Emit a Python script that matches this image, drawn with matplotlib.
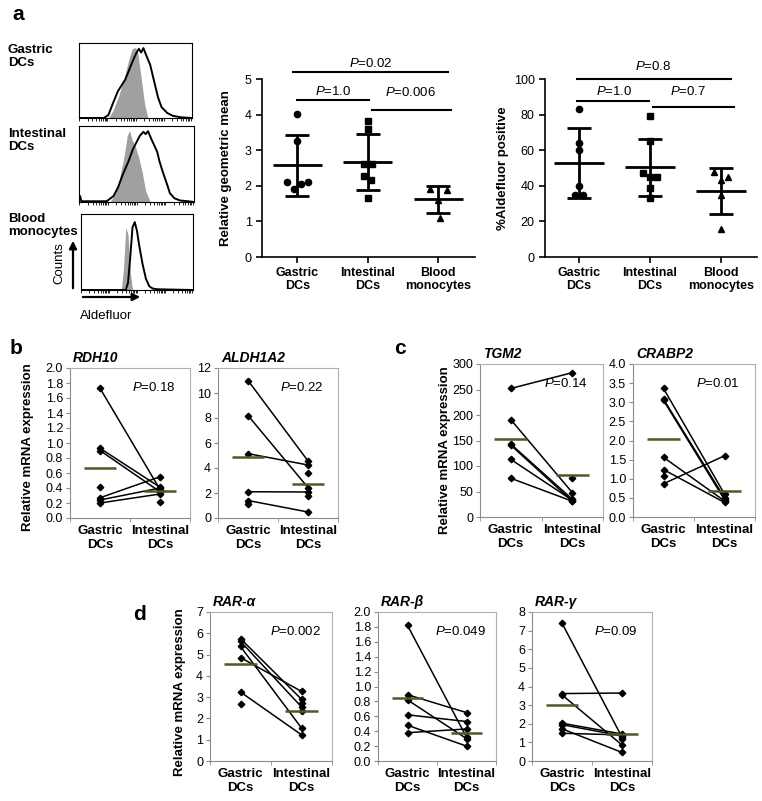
import numpy as np
import matplotlib
matplotlib.use("Agg")
import matplotlib.pyplot as plt

plt.rcParams["font.family"] = ["Liberation Sans", "DejaVu Sans"]
plt.rcParams["mathtext.fontset"] = "custom"
plt.rcParams["mathtext.rm"] = "Liberation Sans"
plt.rcParams["mathtext.it"] = "Liberation Sans:italic"
plt.rcParams["mathtext.bf"] = "Liberation Sans:bold"

nan = np.nan
W, H = 762, 801
OLIVE = "#4b5a26"
AXGRAY = "#8c8c8c"

# ---- panel a: flow histograms (x and height as fraction of the box) ----
gas_ctrl_x = [0, 0.26, 0.30, 0.35, 0.40, 0.44, 0.47, 0.50, 0.52, 0.55, 0.58, 0.61, 1.0]
gas_ctrl_y = [0, 0, 0.10, 0.30, 0.55, 0.80, 0.95, 0.97, 0.90, 0.55, 0.20, 0, 0]
gas_stain_x = [0, 0.22, 0.26, 0.30, 0.345, 0.41, 0.48, 0.51, 0.53, 0.55, 0.57, 0.59,
               0.63, 0.67, 0.70, 0.73, 0.78, 0.83, 0.90, 1.0]
gas_stain_y = [0, 0, 0.04, 0.20, 0.37, 0.53, 0.80, 0.90, 0.95, 0.90, 0.96, 0.88,
               0.73, 0.47, 0.28, 0.15, 0.07, 0.03, 0.01, 0]
int_ctrl_x = [0, 0.27, 0.31, 0.35, 0.39, 0.42, 0.44, 0.46, 0.49, 0.52, 0.55, 0.58, 0.62, 1.0]
int_ctrl_y = [0, 0, 0.10, 0.30, 0.60, 0.90, 0.97, 0.85, 0.75, 0.60, 0.40, 0.15, 0, 0]
int_stain_x = [0, 0.01, 0.02, 0.24, 0.30, 0.34, 0.38, 0.43, 0.47, 0.53, 0.56, 0.58,
               0.60, 0.63, 0.68, 0.70, 0.73, 0.77, 0.79, 0.83, 0.88, 0.95, 1.0]
int_stain_y = [0.08, 0.08, 0.01, 0.01, 0.08, 0.20, 0.37, 0.55, 0.72, 0.90, 0.95, 0.92,
               0.96, 0.85, 0.68, 0.55, 0.40, 0.22, 0.12, 0.05, 0.02, 0.01, 0]
mono_ctrl_x = [0, 0.36, 0.38, 0.40, 0.42, 0.44, 0.46, 1.0]
mono_ctrl_y = [0, 0, 0.30, 0.85, 0.75, 0.25, 0, 0]
mono_stain_x = [0, 0.40, 0.42, 0.44, 0.46, 0.48, 0.50, 0.52, 0.55, 0.58, 0.61, 0.64, 0.68, 1.0]
mono_stain_y = [0, 0, 0.10, 0.45, 0.85, 0.92, 0.80, 0.60, 0.35, 0.15, 0.05, 0.02, 0.01, 0]

# ---- panel a: dot plots ----
cells = ["Gastric\nDCs", "Intestinal\nDCs", "Blood\nmonocytes"]
geo_gastric = [4.02, 3.27, 2.10, 1.90, 2.05, 2.10]
geo_intestinal = [3.83, 3.60, 2.60, 2.60, 2.28, 2.15, 1.65]
geo_blood = [1.90, 1.88, 1.60, 1.10]
geo_jit = [[0, 0, -0.15, -0.05, 0.05, 0.15], [0, 0, -0.06, 0.06, -0.05, 0.05, 0], [-0.12, 0.12, 0, 0.02]]
pct_gastric = [83, 64, 60, 40, 35, 35]
pct_intestinal = [79, 65, 47, 45, 45, 39, 33]
pct_blood = [47.5, 45, 43, 35, 15.5]
pct_jit = [[0, 0, 0, 0, -0.06, 0.06], [0, 0, -0.1, 0, 0.1, 0, 0], [-0.1, 0.1, 0, 0, 0]]

# ---- panels b-d: paired qPCR values (nan = no partner) ----
groups = ["Gastric\nDCs", "Intestinal\nDCs"]
rdh10_g = [1.73, 0.93, 0.90, 0.27, 0.24, 0.20, 0.41, nan]
rdh10_i = [0.38, 0.41, 0.35, 0.55, 0.40, 0.32, nan, 0.22]
aldh_g = [11.0, 8.2, 5.15, 2.1, 1.4, 1.1, nan, nan]
aldh_i = [4.56, 2.43, 4.24, 2.08, 0.48, nan, 3.58, 1.76]
tgm2_g = [252, 191, 143, 141, 113, 76, nan]
tgm2_i = [283, 48, 35, 31, 33, 31, 76]
crabp2_g = [3.36, 3.08, 3.05, 1.56, 1.24, 0.87, 1.07]
crabp2_i = [0.60, 0.50, 0.45, 0.42, 0.38, 1.60, nan]
rara_g = [5.75, 5.62, 5.38, 4.86, 3.24, 2.68, nan, nan]
rara_i = [2.90, 2.54, 1.55, 3.27, 1.23, nan, 2.74, 2.33]
rarb_g = [1.82, 0.89, 0.82, 0.62, 0.48, 0.38]
rarb_i = [0.32, 0.65, 0.30, 0.53, 0.20, 0.43]
rarg_g = [7.4, 3.62, 3.55, 2.03, 1.95, 1.73, 1.49, nan]
rarg_i = [1.28, 3.65, 0.86, 1.45, 1.35, 0.46, 1.40, 1.19]
means = {"RDH10": [0.67, 0.36], "ALDH1A2": [4.88, 2.72], "TGM2": [153, 83],
         "CRABP2": [2.04, 0.68], "RAR-α": [4.58, 2.33], "RAR-β": [0.84, 0.38],
         "RAR-γ": [2.98, 1.47]}
pvals = {"RDH10": "0.18", "ALDH1A2": "0.22", "TGM2": "0.14", "CRABP2": "0.01",
         "RAR-α": "0.002", "RAR-β": "0.049", "RAR-γ": "0.09"}


def box(x0, y0, x1, y1):
    return [x0 / W, 1 - y1 / H, (x1 - x0) / W, (y1 - y0) / H]


fig = plt.figure(figsize=(W / 100, H / 100), dpi=100)

# histograms
dec = np.log10(np.arange(1, 10))
minor = np.concatenate([(dec + k) / 4 for k in range(4)])
for rect, cx, cy, sx, sy in [((79, 43, 192, 118), gas_ctrl_x, gas_ctrl_y, gas_stain_x, gas_stain_y),
                             ((79, 126, 194, 202), int_ctrl_x, int_ctrl_y, int_stain_x, int_stain_y),
                             ((81, 214, 193, 290), mono_ctrl_x, mono_ctrl_y, mono_stain_x, mono_stain_y)]:
    ax = fig.add_axes(box(*rect))
    ax.fill_between(cx, cy, color="#a0a0a0", lw=0)
    ax.plot(sx, sy, color="k", lw=1.4)
    ax.set_xlim(0, 1); ax.set_ylim(0, 1.03)
    ax.set_yticks([])
    ax.set_xticks(minor)
    ax.tick_params(axis="x", length=2, width=0.6, labelbottom=False)
    for s in ax.spines.values():
        s.set_linewidth(0.8)


def dotplot(ax, data, jits, marks, ymax, yticks):
    for k, (vals, jit, m) in enumerate(zip(data, jits, marks)):
        vals = np.asarray(vals, float)
        ax.plot(k + np.asarray(jit), vals, m, color="k", ms=4.5, ls="none", zorder=3)
        mu, sd = vals.mean(), vals.std(ddof=1)
        ax.hlines(mu, k - 0.35, k + 0.35, color="k", lw=2)
        ax.vlines(k, mu - sd, mu + sd, color="k", lw=2)
        ax.hlines([mu - sd, mu + sd], k - 0.17, k + 0.17, color="k", lw=2)
    ax.set_ylim(0, ymax)
    ax.set_yticks(yticks)
    ax.set_xticks([0, 1, 2])
    ax.set_xticklabels(cells, fontweight="bold", fontsize=9.5, linespacing=1.05)
    ax.spines[["top", "right"]].set_visible(False)
    ax.spines[["left", "bottom"]].set_linewidth(1.2)
    ax.tick_params(direction="out", length=4, width=1.2, labelsize=9)


def sigbar(ax, x0, x1, y, xt, yt, p):
    ax.plot([x0, x1], [y, y], color="k", lw=1.5, clip_on=False)
    ax.text(xt, yt, r"$\it{P}$=" + p, ha="center", va="bottom", fontsize=9.5)


ax = fig.add_axes(box(262, 79, 475, 257))
dotplot(ax, [geo_gastric, geo_intestinal, geo_blood], geo_jit, ["o", "s", "^"], 5, range(6))
ax.set_xlim(-0.5, 2.52)
sigbar(ax, -0.06, 2.14, 5.2, 1.04, 5.25, "0.02")
sigbar(ax, 0.0, 1.02, 4.41, 0.51, 4.47, "1.0")
sigbar(ax, 1.06, 2.18, 4.13, 1.6, 4.45, "0.006")

ax = fig.add_axes(box(545, 79, 757, 257))
dotplot(ax, [pct_gastric, pct_intestinal, pct_blood], pct_jit, ["o", "s", "^"], 100, range(0, 101, 20))
ax.set_xlim(-0.48, 2.51)
sigbar(ax, -0.03, 2.14, 100, 1.04, 103.5, "0.8")
sigbar(ax, -0.03, 0.99, 87.6, 0.5, 89.5, "1.0")
sigbar(ax, 1.04, 2.18, 84.3, 1.54, 89.5, "0.7")


def paired(rect, name, g, i, ymax, step, fmt):
    ax = fig.add_axes(box(*rect))
    for a, b in zip(g, i):
        if np.isfinite(a) and np.isfinite(b):
            ax.plot([0, 1], [a, b], color="k", lw=1.1, zorder=2)
    for x, v in [(0, g), (1, i)]:
        v = np.asarray(v, float)
        v = v[np.isfinite(v)]
        ax.plot(np.full(len(v), x), v, "D", color="k", ms=3.3, ls="none", zorder=3)
    ax.hlines(means[name], [-0.27, 0.73], [0.27, 1.27], color=OLIVE, lw=1.8, zorder=4)
    ax.text(0.70, 0.87, r"$\it{P}$=" + pvals[name], transform=ax.transAxes,
            ha="center", va="center", fontsize=9.5)
    ax.set_xlim(-0.5, 1.5)
    ax.set_ylim(0, ymax)
    ticks = np.arange(0, ymax + step / 2, step)
    ax.set_yticks(ticks)
    ax.set_yticklabels([fmt.format(t) for t in ticks])
    ax.set_xticks([0, 1])
    ax.set_xticklabels(groups, fontweight="bold", fontsize=9.5, linespacing=1.25)
    ax.set_xticks([-0.5, 0.5, 1.5], minor=True)
    ax.tick_params(axis="x", which="major", length=0, pad=5)
    ax.tick_params(axis="x", which="minor", length=3, color=AXGRAY)
    ax.tick_params(axis="y", length=3, color=AXGRAY, labelsize=9, pad=2)
    for s in ax.spines.values():
        s.set_color("#b0b0b0"); s.set_linewidth(0.8)
    ax.spines[["left", "bottom"]].set_color(AXGRAY)
    x0, y0 = rect[0], rect[1]
    fig.text(x0 / W + 0.004, 1 - (y0 - 10) / H, name, fontsize=10, fontweight="bold",
             fontstyle="italic", ha="left", va="center")
    return ax


paired((70, 368, 190, 518), "RDH10", rdh10_g, rdh10_i, 2.0, 0.2, "{:.1f}")
paired((218, 368, 338, 518), "ALDH1A2", aldh_g, aldh_i, 12, 2, "{:.0f}")
paired((480, 364, 603, 517), "TGM2", tgm2_g, tgm2_i, 300, 50, "{:.0f}")
paired((633, 364, 755, 517), "CRABP2", crabp2_g, crabp2_i, 4.0, 0.5, "{:.1f}")
paired((210, 612, 332, 761), "RAR-α", rara_g, rara_i, 7, 1, "{:.0f}")
paired((378, 612, 496, 761), "RAR-β", rarb_g, rarb_i, 2.0, 0.2, "{:.1f}")
paired((532, 612, 652, 761), "RAR-γ", rarg_g, rarg_i, 8, 1, "{:.0f}")

# overlay in pixel coordinates for labels and arrows
ov = fig.add_axes([0, 0, 1, 1])
ov.set_xlim(0, W); ov.set_ylim(H, 0); ov.axis("off")
for lab, x, y in [("a", 12, 14), ("b", 10, 349), ("c", 394, 349), ("d", 133, 614)]:
    ov.text(x, y, lab, fontsize=15, fontweight="bold", ha="left", va="center")
for lab, y in [("Gastric\nDCs", 44), ("Intestinal\nDCs", 128), ("Blood\nmonocytes", 213)]:
    ov.text(8, y, lab, fontsize=9.5, fontweight="bold", ha="left", va="top", linespacing=1.15)
ov.annotate("", xy=(73, 238), xytext=(73, 291),
            arrowprops=dict(arrowstyle="-|>", lw=1.6, color="k", mutation_scale=11))
ov.annotate("", xy=(143, 297), xytext=(80, 297),
            arrowprops=dict(arrowstyle="-|>", lw=1.6, color="k", mutation_scale=11))
ov.text(59, 263, "Counts", rotation=90, fontsize=9.5, ha="center", va="center")
ov.text(80, 316, "Aldefluor", fontsize=9.5, ha="left", va="center")
ov.text(226, 168, "Relative geometric mean", rotation=90, fontsize=9.5,
        fontweight="bold", ha="center", va="center")
ov.text(503, 168, "%Aldefluor positive", rotation=90, fontsize=9.5,
        fontweight="bold", ha="center", va="center")
for x, y in [(28, 447), (445, 450), (180, 692)]:
    ov.text(x, y, "Relative mRNA expression", rotation=90, fontsize=9.5,
            fontweight="bold", ha="center", va="center")

fig.savefig("out.png", dpi=100)
